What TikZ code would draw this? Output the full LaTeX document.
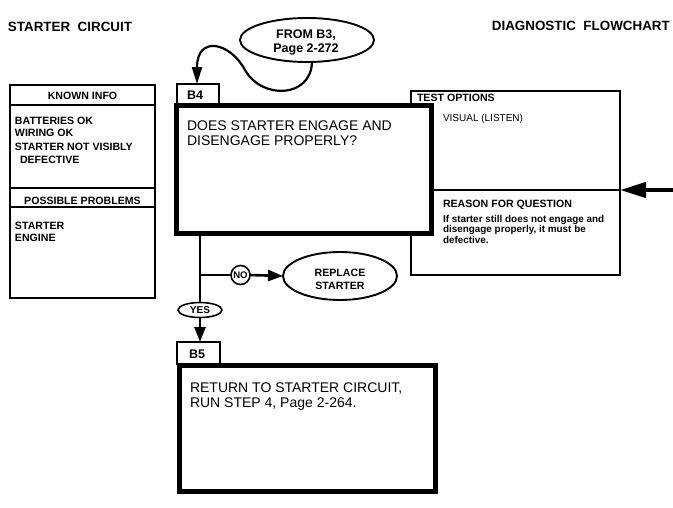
\documentclass[tikz,border=0pt]{standalone}
\usepackage{fontspec}
\setmainfont{Liberation Sans}
\usetikzlibrary{arrows.meta,shapes.geometric}
\begin{document}
\begin{tikzpicture}[x=1pt,y=-1pt,
  thinbox/.style={draw, line width=1.4pt, fill=white, inner sep=0pt, outer sep=0pt},
  thickbox/.style={draw, line width=5pt, fill=white, inner sep=0pt, outer sep=0pt},
  oval/.style={draw, ellipse, line width=1.9pt, fill=white, inner sep=0pt, outer sep=0pt, align=center},
  txt/.style={inner sep=0pt, outer sep=0pt, anchor=base west},
  ctxt/.style={inner sep=0pt, outer sep=0pt, anchor=base},
  titlef/.style={font=\fontsize{13.4}{14}\selectfont\bfseries},
  headf/.style={font=\fontsize{10.6}{12}\selectfont\bfseries},
  itemf/.style={font=\fontsize{10.6}{13}\selectfont\bfseries},
  bodyf/.style={font=\fontsize{9.9}{10.5}\selectfont\bfseries},
  bigf/.style={font=\fontsize{14}{15}\selectfont},
  tabf/.style={font=\fontsize{12.5}{14}\selectfont\bfseries},
  ovalf/.style={font=\fontsize{12.5}{14}\selectfont\bfseries},
  conn/.style={line width=2.6pt},
  arr/.style={line width=2.6pt, -{Triangle[length=15pt,width=11pt]}},
  curvearr/.style={line width=2.2pt, -{Triangle[length=17pt,width=10pt]}},
  bigarr/.style={line width=4.5pt, -{Triangle[length=26pt,width=15pt]}}]
\useasboundingbox[fill=white] (0,0) rectangle (673,507);

% titles
\node[txt, titlef] (title1) at (8,31) {STARTER\ \ CIRCUIT};
\node[inner sep=0pt, anchor=base east, titlef] (title2) at (670,30) {DIAGNOSTIC\ \ FLOWCHART};

% known info box
\node[thinbox, minimum width=145pt, minimum height=213pt] (known) at (82.5,191.5) {};
\draw[line width=1.4pt] (known.west |- 0,105) coordinate (k1) -- (known.east |- k1);
\draw[line width=1.4pt] (known.west |- 0,188) coordinate (k2) -- (known.east |- k2);
\draw[line width=1.4pt] (known.west |- 0,207) coordinate (k3) -- (known.east |- k3);
\node[ctxt, headf] (knownh) at (82.5,99) {KNOWN INFO};
\node[txt, itemf] (k1t) at (15,124) {BATTERIES OK};
\node[txt, itemf] (k2t) at (15,136.5) {WIRING OK};
\node[txt, itemf] (k3t) at (15,150) {STARTER NOT VISIBLY};
\node[txt, itemf] (k4t) at (20,163) {DEFECTIVE};
\node[ctxt, headf] (possh) at (82.5,204) {POSSIBLE PROBLEMS};
\node[txt, itemf] (p1t) at (15,229) {STARTER};
\node[txt, itemf] (p2t) at (15,241) {ENGINE};

% test options box
\node[thinbox, minimum width=209pt, minimum height=184pt] (test) at (515.5,183) {};
\draw[line width=1.4pt] (test.west |- 0,190) coordinate (divL) -- (test.east |- divL) coordinate (divR);
\node[txt, headf] (testh) at (417,101) {TEST OPTIONS};
\node[txt, font=\fontsize{10}{12}\selectfont] (testt) at (443,121) {VISUAL (LISTEN)};
\node[txt, headf] (reasonh) at (443,207) {REASON FOR QUESTION};
\node[txt, bodyf] (reason1) at (443,222) {If starter still does not engage and};
\node[txt, bodyf] (reason2) at (443,232.5) {disengage properly, it must be};
\node[txt, bodyf] (reason3) at (443,243) {defective.};

% B4
\node[thinbox, minimum width=42pt, minimum height=21pt] (b4tab) at (198,94.5) {};
\node[txt, tabf] (b4lab) at (187,99.5) {B4};
\node[thickbox, minimum width=255pt, minimum height=127.5pt] (b4) at (303.5,169.25) {};
\node[txt, bigf] (b4t1) at (187,130) {DOES STARTER ENGAGE AND};
\node[txt, bigf] (b4t2) at (187,145) {DISENGAGE PROPERLY?};

% from B3
\node[oval, minimum width=134pt, minimum height=44pt] (from) at (307,40) {};
\node[ctxt, ovalf] (fromt1) at (306,38) {FROM B3,};
\node[ctxt, ovalf] (fromt2) at (306,52) {Page 2-272};
\coordinate (fromout) at (312,62);
\draw[curvearr] (fromout) .. controls (311,98) and (262,100) .. (245,70)
   .. controls (230,42) and (197,35) .. (b4tab.north -| 197,0);

% right arrow
\coordinate (rightin) at (673,190);
\draw[bigarr] (rightin) -- (divR);

% branches
\node[oval, minimum width=44pt, minimum height=15pt, line width=1.6pt] (yes) at (200,310) {};
\node[ctxt, font=\fontsize{10}{11}\selectfont\bfseries] (yest) at (200,313.6) {YES};
\node[draw, circle, line width=1.6pt, fill=white, minimum size=19pt, inner sep=0pt, outer sep=0pt] (no) at (240.5,275) {};
\node[ctxt, font=\fontsize{9.6}{10}\selectfont\bfseries] (not) at (240.5,278.5) {NO};
\node[oval, minimum width=114pt, minimum height=48pt] (replace) at (340,276) {};
\node[ctxt, headf] (rep1) at (340,276) {REPLACE};
\node[ctxt, headf] (rep2) at (340,289) {STARTER};

\coordinate (b4out) at (200,233);
\coordinate (nojoin) at (200,275);
\draw[conn] (b4out) -- (yes.north);
\draw[conn] (nojoin) -- (no.west);
\draw[arr] (no.east) -- (replace.west);

% B5
\node[thinbox, minimum width=43pt, minimum height=22pt] (b5tab) at (198.5,353) {};
\node[txt, tabf] (b5lab) at (189,358.5) {B5};
\node[thickbox, minimum width=256pt, minimum height=126pt] (b5) at (307,428) {};
\node[txt, bigf] (b5t1) at (190,392) {RETURN TO STARTER CIRCUIT,};
\node[txt, bigf] (b5t2) at (190,407) {RUN STEP 4, Page 2-264.};
\draw[arr] (yes.south) -- (yes.south |- b5tab.north);
\end{tikzpicture}
\end{document}
